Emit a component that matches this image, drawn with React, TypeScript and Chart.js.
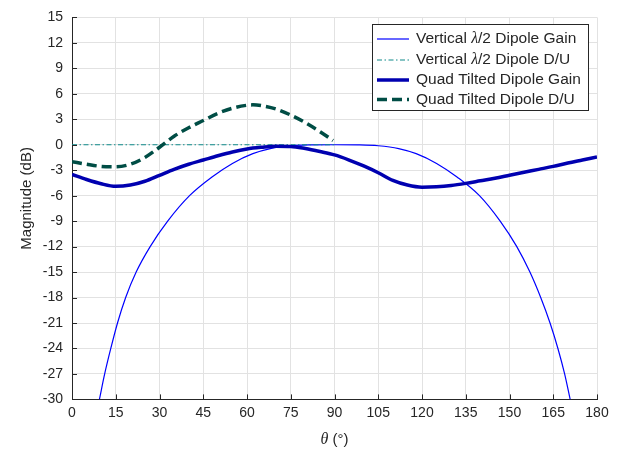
import React, { useEffect, useRef } from "react";
import { Chart, registerables } from "chart.js";

Chart.register(...registerables);

// ---- data ----
const xMin = 0;
const xMax = 180;
const xStep = 15;
const yMin = -30;
const yMax = 15;
const yStep = 3;

const seriesNames = [
  ["Vertical ", "λ", "/2 Dipole Gain"],
  ["Vertical ", "λ", "/2 Dipole D/U"],
  ["Quad Tilted Dipole Gain"],
  ["Quad Tilted Dipole D/U"],
];

const dipoleGainTheta = [9.4, 11.2, 13.3, 15.6, 18.4, 22, 26.8, 32.8, 40.3, 48, 55, 62, 68, 75, 82, 90, 98, 105, 112, 118, 125, 132, 139.7, 146.8, 152.5, 157, 160.7, 163.9, 166.6, 168.9, 170.8];
const dipoleGainDb = [-30, -27, -24, -21, -18, -15, -12, -9, -6, -3.8, -2.2, -1.05, -0.45, -0.12, -0.02, 0, -0.02, -0.12, -0.45, -1.05, -2.2, -3.8, -6, -9, -12, -15, -18, -21, -24, -27, -30];

const dipoleDuTheta = [0, 15, 30, 45, 60, 75, 90];
const dipoleDuDb = [0, 0, 0, 0, 0, 0, 0];

const quadGainTheta = [0, 5, 10, 15, 20, 25, 30, 35, 40, 45, 50, 55, 60, 65, 70, 75, 80, 85, 90, 95, 100, 105, 110, 115, 120, 125, 130, 135, 140, 145, 150, 155, 160, 165, 170, 175, 180];
const quadGainDb = [-3.5, -4.1, -4.6, -4.9, -4.75, -4.3, -3.6, -2.9, -2.3, -1.8, -1.3, -0.85, -0.5, -0.3, -0.17, -0.2, -0.45, -0.8, -1.2, -1.8, -2.5, -3.3, -4.2, -4.75, -5.0, -4.95, -4.8, -4.55, -4.25, -3.95, -3.6, -3.25, -2.9, -2.55, -2.15, -1.8, -1.45];

const quadDuTheta = [0, 5, 10, 15, 20, 25, 30, 35, 40, 45, 50, 55, 60, 62, 65, 70, 75, 80, 85, 89.5];
const quadDuDb = [-2.0, -2.3, -2.55, -2.6, -2.3, -1.5, -0.3, 1.0, 2.0, 2.85, 3.7, 4.3, 4.65, 4.7, 4.6, 4.2, 3.5, 2.6, 1.55, 0.5];

const xTitleParts = ["θ", " (°)"];
const yTitle = "Magnitude (dB)";

// ---- styles ----
const colors = ["#0000ff", "#0f8a8a", "#0000b0", "#004d45"];
const widths = [1.2, 1.2, 3.5, 3.5];
const dashes: number[][] = [[], [5, 2.5, 1.5, 2.5], [], [10, 5]];
const SANS = "'Liberation Sans', Arial, sans-serif";
const SERIF = "'Liberation Serif', 'Times New Roman', serif";
const TEXT = "#262626";

function pts(xs: number[], ys: number[]) {
  return xs.map((x, i) => ({ x, y: ys[i] }));
}

const decorPlugin = {
  id: "decor",
  afterDraw(chart: any) {
    const { ctx, chartArea: ca, scales } = chart;
    ctx.save();
    // inward tick marks
    ctx.strokeStyle = TEXT;
    ctx.lineWidth = 1;
    ctx.beginPath();
    for (let v = xMin; v <= xMax; v += xStep) {
      const px = Math.round(scales.x.getPixelForValue(v)) + 0.5;
      ctx.moveTo(px, ca.bottom);
      ctx.lineTo(px, ca.bottom - 5);
    }
    for (let v = yMin; v <= yMax; v += yStep) {
      const py = Math.round(scales.y.getPixelForValue(v)) + 0.5;
      ctx.moveTo(ca.left, py);
      ctx.lineTo(ca.left + 5, py);
    }
    ctx.stroke();

    // y title
    ctx.fillStyle = TEXT;
    ctx.save();
    ctx.translate(27, (ca.top + ca.bottom) / 2 - 10);
    ctx.rotate(-Math.PI / 2);
    ctx.font = `15px ${SANS}`;
    ctx.textAlign = "center";
    ctx.textBaseline = "middle";
    ctx.fillText(yTitle, 0, 0);
    ctx.restore();

    // x title (italic theta)
    ctx.textBaseline = "middle";
    ctx.textAlign = "left";
    const f1 = `italic 16px ${SERIF}`;
    const f2 = `15px ${SANS}`;
    ctx.font = f1;
    const w1 = ctx.measureText(xTitleParts[0]).width;
    ctx.font = f2;
    const w2 = ctx.measureText(xTitleParts[1]).width;
    const cx = (ca.left + ca.right) / 2;
    const tx = cx - (w1 + w2) / 2;
    ctx.font = f1;
    ctx.fillText(xTitleParts[0], tx, 440);
    ctx.font = f2;
    ctx.fillText(xTitleParts[1], tx + w1, 440);

    // legend
    const lx = 372.5, ly = 24.5, lw = 216, lh = 86;
    ctx.fillStyle = "#ffffff";
    ctx.fillRect(lx, ly, lw, lh);
    ctx.strokeStyle = "#262626";
    ctx.lineWidth = 1;
    ctx.strokeRect(lx, ly, lw, lh);
    const rows = [39, 60, 80, 99.5];
    seriesNames.forEach((parts, i) => {
      const ry = rows[i];
      ctx.strokeStyle = colors[i];
      ctx.lineWidth = widths[i];
      ctx.setLineDash(dashes[i]);
      ctx.beginPath();
      ctx.moveTo(377, ry);
      ctx.lineTo(409, ry);
      ctx.stroke();
      ctx.setLineDash([]);
      ctx.fillStyle = TEXT;
      ctx.textBaseline = "middle";
      let x = 416;
      parts.forEach((p) => {
        ctx.font = p === "λ" ? `italic 16px ${SERIF}` : `15.5px ${SANS}`;
        ctx.fillText(p, x, ry);
        x += ctx.measureText(p).width;
      });
    });
    ctx.restore();
  },
};

export default function App() {
  const ref = useRef<HTMLCanvasElement | null>(null);
  useEffect(() => {
    if (!ref.current) return;
    const datasets = [
      [dipoleGainTheta, dipoleGainDb],
      [dipoleDuTheta, dipoleDuDb],
      [quadGainTheta, quadGainDb],
      [quadDuTheta, quadDuDb],
    ].map(([xs, ys], i) => ({
      label: seriesNames[i].join(""),
      data: pts(xs, ys),
      borderColor: colors[i],
      backgroundColor: colors[i],
      borderWidth: widths[i],
      borderDash: dashes[i],
      pointRadius: 0,
      fill: false,
      cubicInterpolationMode: "monotone" as const,
      order: 4 - i,
    }));
    const chart = new Chart(ref.current, {
      type: "line",
      data: { datasets },
      options: {
        animation: false,
        responsive: false,
        devicePixelRatio: 1,
        layout: { padding: { left: 0, top: 14.4, right: 22, bottom: 0 } },
        plugins: { legend: { display: false }, tooltip: { enabled: false } },
        scales: {
          x: {
            type: "linear",
            min: xMin,
            max: xMax,
            ticks: { stepSize: xStep, color: TEXT, font: { family: SANS, size: 14 }, padding: 5, maxRotation: 0 },
            grid: { color: "#e2e2e2", drawTicks: false },
            border: { display: true, color: TEXT, width: 1 },
            afterFit: (s: any) => { s.height = 55.6; },
          },
          y: {
            type: "linear",
            min: yMin,
            max: yMax,
            ticks: { stepSize: yStep, color: TEXT, font: { family: SANS, size: 14 }, padding: 9 },
            grid: { color: "#e2e2e2", drawTicks: false },
            border: { display: true, color: TEXT, width: 1 },
            afterFit: (s: any) => { s.width = 72; },
          },
        },
      },
      plugins: [decorPlugin],
    });
    return () => chart.destroy();
  }, []);
  return (
    <div style={{ position: "fixed", left: 0, top: 0, width: 619, height: 455, background: "#fff" }}>
      <canvas ref={ref} width={619} height={455} style={{ display: "block" }} />
    </div>
  );
}
